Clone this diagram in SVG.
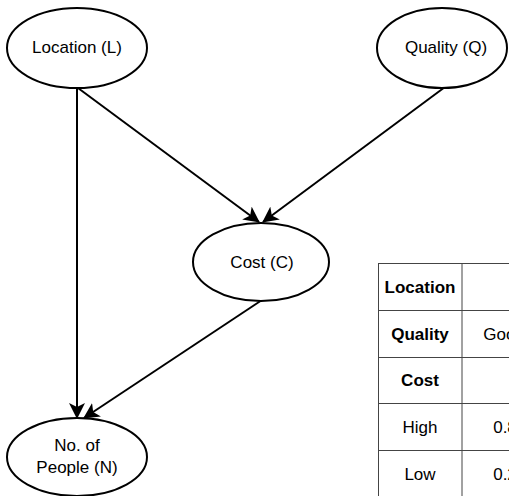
<svg xmlns="http://www.w3.org/2000/svg" width="509" height="496" viewBox="0 0 509 496">
<style>
.node ellipse{fill:#fff;stroke:#000;stroke-width:2}
.lbl{font-family:"Liberation Sans",Arial,sans-serif;font-size:17px;fill:#000;text-anchor:middle}
.edge{stroke:#000;stroke-width:2;fill:none;marker-end:url(#arr)}
.grid{stroke:#444;stroke-width:1;fill:none}
.b{font-weight:bold}
</style>
<defs>
<marker id="arr" markerUnits="userSpaceOnUse" markerWidth="18" markerHeight="16" refX="15" refY="8" orient="auto">
<path d="M0,0 L16,8 L0,16 L4,8 z" fill="#000"/>
</marker>
</defs>
<rect width="509" height="496" fill="#fff"/>
<g id="connectors">
<line class="edge" x1="77" y1="88" x2="77" y2="418"/>
<line class="edge" x1="78" y1="88" x2="259" y2="222"/>
<line class="edge" x1="445" y1="87" x2="263" y2="222"/>
<line class="edge" x1="262" y1="300" x2="84" y2="418"/>
</g>
<g id="location" class="node">
<ellipse cx="77" cy="48" rx="70" ry="40"/>
<text class="lbl" x="77" y="53">Location (L)</text>
</g>
<g id="quality" class="node">
<ellipse cx="442" cy="48" rx="65" ry="40"/>
<text class="lbl" x="446" y="53">Quality (Q)</text>
</g>
<g id="cost" class="node">
<ellipse cx="261" cy="262" rx="68" ry="39"/>
<text class="lbl" x="262" y="268">Cost (C)</text>
</g>
<g id="people" class="node">
<ellipse cx="77" cy="457" rx="70" ry="39"/>
<text class="lbl" x="77" y="451">No. of</text>
<text class="lbl" x="77" y="473">People (N)</text>
</g>
<g id="table">
<rect class="grid" x="378.5" y="263.5" width="200" height="233"/>
<line class="grid" x1="462" y1="263" x2="462" y2="496" stroke-width="1.5"/>
<line class="grid" x1="378" y1="310.5" x2="509" y2="310.5"/>
<line class="grid" x1="378" y1="357.5" x2="509" y2="357.5"/>
<line class="grid" x1="378" y1="403.5" x2="509" y2="403.5"/>
<line class="grid" x1="378" y1="450.5" x2="509" y2="450.5"/>
<text class="lbl b" x="420" y="293">Location</text>
<text class="lbl b" x="420" y="340">Quality</text>
<text class="lbl b" x="420" y="386">Cost</text>
<text class="lbl" x="420" y="433">High</text>
<text class="lbl" x="420" y="480">Low</text>
<text class="lbl" x="504" y="340">Good</text>
<text class="lbl" x="505" y="433">0.8</text>
<text class="lbl" x="505" y="480">0.2</text>
</g>
</svg>
